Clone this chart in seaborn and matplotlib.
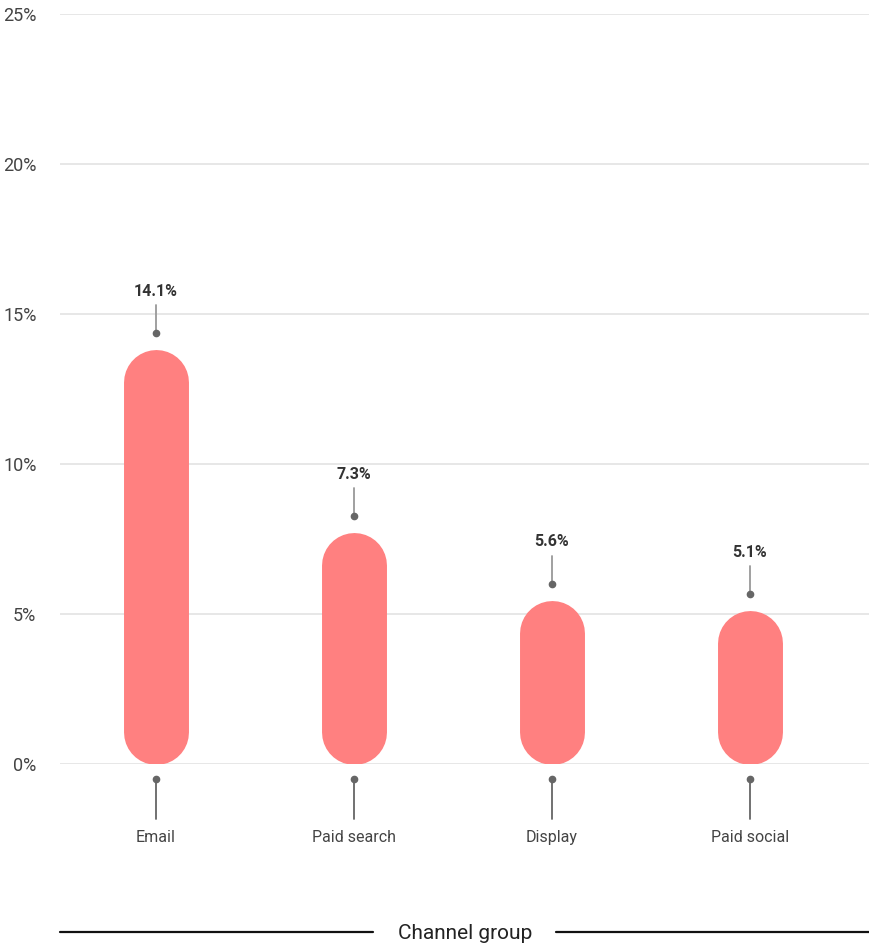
import matplotlib
matplotlib.use("Agg")
import matplotlib.pyplot as plt
from matplotlib.lines import Line2D
import seaborn as sns
import pandas as pd
import numpy as np

# ---- data ----
channels = ["Email", "Paid search", "Display", "Paid social"]
bar_heights = [13.8, 7.7, 5.45, 5.1]        # pill heights as drawn (%)
label_values = [14.1, 7.3, 5.6, 5.1]         # printed labels (%)
y_ticks = [0, 5, 10, 15, 20, 25]
axis_title = "Channel group"

PINK = "#ff8080"
W, H = 870, 947

sns.set_theme(style="white")
plt.rcParams["font.family"] = ["Roboto", "DejaVu Sans"]

fig = plt.figure(figsize=(W / 100, H / 100), dpi=100)
ax = fig.add_axes([60 / W, (H - 764) / H, 810 / W, 750 / H])

df = pd.DataFrame({"channel": channels, "rate": bar_heights})
sns.barplot(data=df, x="channel", y="rate", ax=ax, color=PINK, width=0.328,
            saturation=1)

ax.set_xlim(-0.485, 3.606)
ax.set_ylim(0, 25)
fig.canvas.draw()

# pixel scales
px_x = ax.transData.transform((1, 0))[0] - ax.transData.transform((0, 0))[0]
px_y = ax.transData.transform((0, 1))[1] - ax.transData.transform((0, 0))[1]

def py(p):  # pixels -> data units (y)
    return p / px_y

for p, lab in zip(list(ax.patches), label_values):
    cx = p.get_x() + p.get_width() / 2
    h = p.get_height()
    wpx = p.get_width() * px_x
    r = py(wpx / 2)
    p.set_visible(False)
    ax.plot([cx, cx], [r, h - r], lw=wpx * 72 / 100, color=PINK,
            solid_capstyle="round", zorder=3)
    # top annotation
    dot_y = h + py(17)
    ax.plot([cx, cx], [dot_y, dot_y + py(28)], color="#999999", lw=1.3,
            zorder=4, clip_on=False)
    ax.plot([cx], [dot_y], "o", ms=4.5, color="#666666", zorder=5, clip_on=False)
    ax.text(cx, dot_y + py(37), f"{lab}%", ha="center", va="baseline",
            fontsize=11.5, fontweight="bold", color="#333333", clip_on=False)
    # bottom annotation
    bdot = -py(15)
    ax.plot([cx, cx], [bdot, bdot - py(40)], color="#666666", lw=1.3,
            zorder=4, clip_on=False)
    ax.plot([cx], [bdot], "o", ms=4.5, color="#666666", zorder=5, clip_on=False)

for i, name in enumerate(channels):
    ax.text(i, -py(66), name, ha="center", va="top", fontsize=11.5,
            color="#444444", clip_on=False)

ax.set_yticks(y_ticks)
ax.set_yticklabels([f"{t}%" for t in y_ticks], fontsize=13, color="#444444")
ax.tick_params(axis="y", length=0, pad=17)
ax.set_xticks([])
ax.set_xlabel("")
ax.set_ylabel("")
for s in ax.spines.values():
    s.set_visible(False)
ax.grid(axis="y", color="#e3e3e3", lw=1.2, zorder=0)
ax.set_axisbelow(True)

# axis title with flanking lines
yt = (H - 933) / H
fig.text(465 / W, yt, axis_title, ha="center", va="center", fontsize=15,
         color="#222222")
fig.add_artist(Line2D([60 / W, 373 / W], [(H - 932) / H] * 2, color="#111111", lw=1.6))
fig.add_artist(Line2D([556 / W, 870 / W], [(H - 932) / H] * 2, color="#111111", lw=1.6))

fig.savefig("out.png", dpi=100)
